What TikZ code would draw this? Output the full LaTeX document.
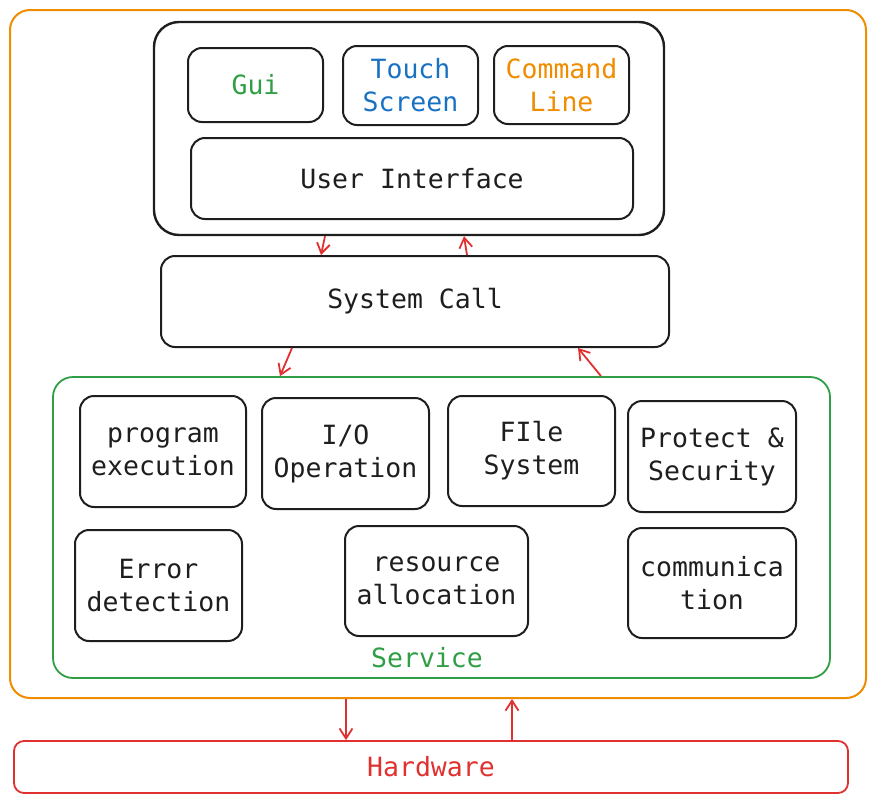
\documentclass[tikz,border=0pt]{standalone}
\usepackage{fontspec}
\setmainfont{DejaVu Sans Mono}
\usetikzlibrary{arrows.meta}
\definecolor{ink}{HTML}{1E1E1E}
\definecolor{osorange}{HTML}{F08C00}
\definecolor{svgreen}{HTML}{2F9E44}
\definecolor{tsblue}{HTML}{1971C2}
\definecolor{hwred}{HTML}{E03131}

\begin{document}
\begin{tikzpicture}[x=1pt,y=-1pt,
  box/.style={draw=ink, line width=2pt, rounded corners=14pt, align=center,
    inner sep=0pt, text=ink, font=\fontsize{26.5}{33}\selectfont},
  arr/.style={-{Straight Barb[length=10pt,width=13pt]}, draw=hwred, line width=1.8pt}]
\useasboundingbox (0,0) rectangle (876,803);

% outer frame
\node[box, draw=osorange, rounded corners=20pt, minimum width=856pt, minimum height=688pt] (os) at (438,354) {};

% user interface block
\node[box, line width=2.4pt, rounded corners=25pt, minimum width=510pt, minimum height=213pt] (uibox) at (409,128.5) {};
\node[box, text=svgreen, minimum width=135pt, minimum height=74pt] (gui) at (255.5,85) {Gui};
\node[box, text=tsblue, minimum width=135pt, minimum height=79pt] (touch) at (410.5,85.5) {Touch\\Screen};
\node[box, text=osorange, minimum width=135pt, minimum height=78pt] (cmd) at (561.5,85) {Command\\Line};
\node[box, minimum width=442pt, minimum height=81pt] (ui) at (412,178.5) {User Interface};

% system call
\node[box, minimum width=508pt, minimum height=91pt] (sysc) at (415,301.5) {System Call};

% services
\node[box, draw=svgreen, line width=1.8pt, rounded corners=20pt, minimum width=777pt, minimum height=301pt] (serv) at (441.5,527.5) {};
\node[text=svgreen, font=\fontsize{26.5}{33}\selectfont] (servlbl) at (427,658) {Service};
\node[box, minimum width=166pt, minimum height=111pt] (prog) at (163,451.5) {program\\execution};
\node[box, minimum width=167pt, minimum height=111pt] (io) at (345.5,453.5) {I/O\\Operation};
\node[box, minimum width=167pt, minimum height=110pt] (fs) at (531.5,451) {FIle\\System};
\node[box, minimum width=168pt, minimum height=111pt] (prot) at (712,456.5) {Protect \&\\Security};
\node[box, minimum width=167pt, minimum height=111pt] (err) at (158.5,585.5) {Error\\detection};
\node[box, minimum width=183pt, minimum height=110pt] (res) at (436.5,581) {resource\\allocation};
\node[box, minimum width=168pt, minimum height=110pt] (comm) at (712,583) {communica\\tion};

% hardware
\node[box, draw=hwred, text=hwred, line width=1.8pt, rounded corners=10pt, minimum width=834pt, minimum height=52pt] (hw) at (431,767) {Hardware};

% arrows
\draw[arr] ([xshift=-84pt]uibox.south) -- ([xshift=-94pt]sysc.north);
\draw[arr] ([xshift=52pt]sysc.north) -- ([xshift=55pt]uibox.south);
\draw[arr] ([xshift=-123pt]sysc.south) -- ([xshift=-161.5pt]serv.north);
\draw[arr] ([xshift=159.5pt]serv.north) -- ([xshift=163pt]sysc.south);
\draw[arr] ([xshift=-92pt]os.south) -- ([xshift=-85pt]hw.north);
\draw[arr] ([xshift=81pt]hw.north) -- ([xshift=74pt]os.south);
\end{tikzpicture}
\end{document}
